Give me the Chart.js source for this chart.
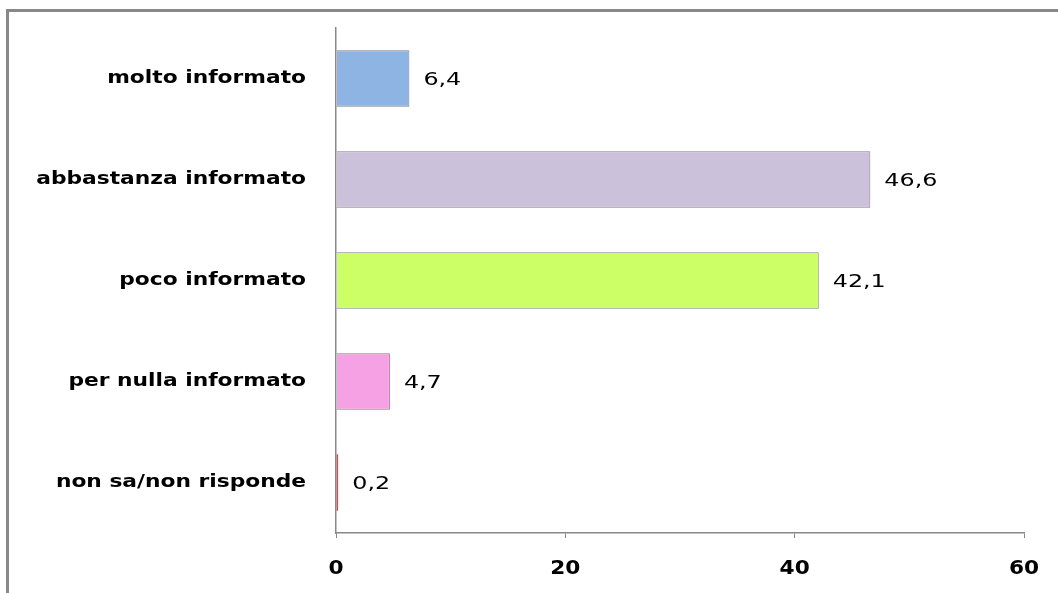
<!DOCTYPE html>
<html>
<head>
<meta charset="utf-8">
<script src="https://cdn.jsdelivr.net/npm/chart.js@4/dist/chart.umd.min.js"></script>
<style>
html,body{margin:0;padding:0;background:#fff;}
#wrap{width:1058px;height:593px;position:relative;}
</style>
</head>
<body>
<div id="wrap"><canvas id="c" width="1058" height="593"></canvas></div>
<script>
const categories = ["molto informato", "abbastanza informato", "poco informato", "per nulla informato", "non sa/non risponde"];
const values = [6.4, 46.6, 42.1, 4.7, 0.2];
const barColors = ["#8EB4E3", "#CCC1DA", "#CCFF66", "#F7A1E5", "#FF0000"];
const barBorders = ["#808080", "#808080", "#808080", "#808080", "#FF0000"];
const xTicks = [0, 20, 40, 60];

const framePlugin = {
  id: 'frame',
  beforeDraw(chart) {
    const ctx = chart.ctx;
    ctx.save();
    ctx.fillStyle = '#fff';
    ctx.fillRect(0, 0, chart.width, chart.height);
    ctx.fillStyle = '#888888';
    ctx.fillRect(6, 9, chart.width - 6, 3);
    ctx.fillRect(6, 9, 3, chart.height - 9);
    ctx.restore();
  }
};

function stretchedText(ctx, text, x, y, sx) {
  ctx.save();
  ctx.translate(x, y);
  ctx.scale(sx, 1);
  ctx.fillText(text, 0, 0);
  ctx.restore();
}

const labelPlugin = {
  id: 'vals',
  afterDraw(chart) {
    const ctx = chart.ctx;
    const meta = chart.getDatasetMeta(0);
    const yScale = chart.scales.y;
    const xScale = chart.scales.x;
    ctx.save();
    ctx.fillStyle = '#000';
    ctx.textBaseline = 'middle';
    // value labels
    ctx.font = '17px "DejaVu Sans"';
    ctx.textAlign = 'left';
    meta.data.forEach((el, i) => {
      stretchedText(ctx, values[i].toFixed(1).replace('.', ','), el.x + 14, el.y + 2, 1.4);
    });
    // category labels
    ctx.font = 'bold 17px "DejaVu Sans"';
    ctx.textAlign = 'right';
    categories.forEach((c, i) => {
      const y = yScale.getPixelForValue(i);
      stretchedText(ctx, c, yScale.right - 30, y, 1.28);
    });
    // x tick labels
    ctx.font = 'bold 19px "DejaVu Sans"';
    ctx.textAlign = 'center';
    xTicks.forEach(v => {
      stretchedText(ctx, String(v), xScale.getPixelForValue(v), xScale.top + 36, 1.14);
    });
    ctx.restore();
  }
};

new Chart(document.getElementById('c'), {
  type: 'bar',
  data: {
    labels: categories,
    datasets: [{
      data: values,
      backgroundColor: barColors,
      borderColor: barBorders,
      borderWidth: 1,
      borderSkipped: 'start',
      barPercentage: 0.56,
      categoryPercentage: 1.0
    }]
  },
  options: {
    indexAxis: 'y',
    responsive: false,
    animation: false,
    layout: { padding: { top: 28, right: 34, left: 0, bottom: 0 } },
    plugins: { legend: { display: false }, tooltip: { enabled: false } },
    scales: {
      x: {
        min: 0, max: 60,
        afterBuildTicks(s) { s.ticks = xTicks.map(v => ({ value: v })); },
        afterFit(s) { s.height = 60; },
        grid: { drawOnChartArea: false, drawTicks: true, tickLength: 5, color: '#888888' },
        border: { display: true, color: '#888888', width: 1.5 },
        ticks: { color: 'rgba(0,0,0,0)', font: { family: 'DejaVu Sans', size: 19, weight: 'bold' }, padding: 19, maxRotation: 0 }
      },
      y: {
        afterFit(s) { s.width = 336; },
        grid: { drawOnChartArea: false, drawTicks: false },
        border: { display: true, color: '#888888', width: 1.5 },
        ticks: { display: false }
      }
    }
  },
  plugins: [framePlugin, labelPlugin]
});
</script>
</body>
</html>
